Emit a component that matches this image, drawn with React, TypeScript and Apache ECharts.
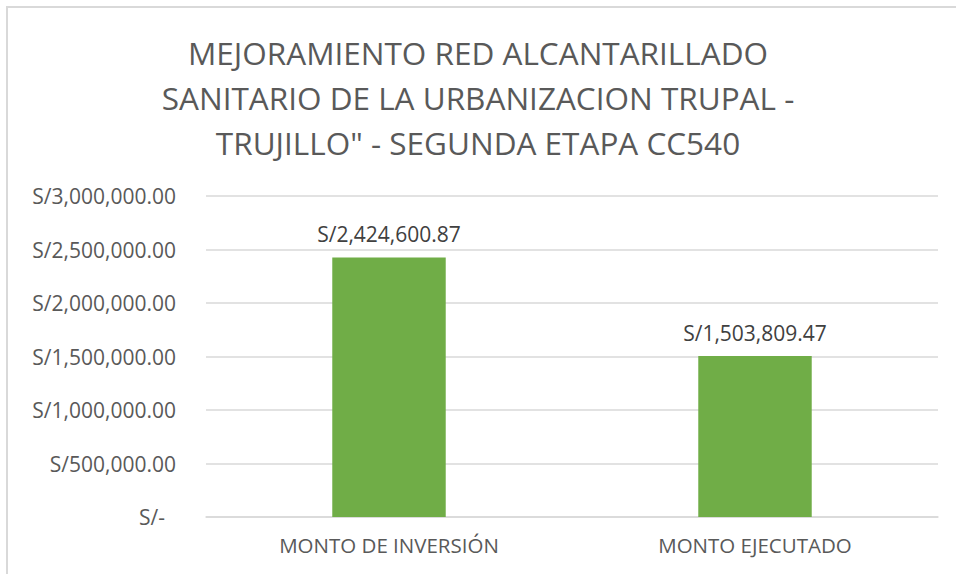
import React, { useEffect, useRef } from "react";
import * as echarts from "echarts";

const categories = ["MONTO DE INVERSIÓN", "MONTO EJECUTADO"];
const values = [2424600.87, 1503809.47];
const titleLines = [
  "MEJORAMIENTO RED ALCANTARILLADO",
  "SANITARIO DE LA URBANIZACION TRUPAL -",
  'TRUJILLO" - SEGUNDA ETAPA CC540',
];

const fmt = (v: number) =>
  v === 0
    ? "S/-"
    : "S/" +
      v.toLocaleString("en-US", { minimumFractionDigits: 2, maximumFractionDigits: 2 });

export default function App() {
  const ref = useRef<HTMLDivElement>(null);
  useEffect(() => {
    if (!ref.current) return;
    const chart = echarts.init(ref.current, null, { renderer: "svg" });
    const font = "'Open Sans', 'Noto Sans', sans-serif";
    chart.setOption({
      animation: false,
      backgroundColor: "#ffffff",
      title: {
        text: titleLines.join("\n"),
        left: "center",
        top: 25,
        textStyle: {
          fontFamily: font,
          fontSize: 31.5,
          fontWeight: "normal",
          color: "#595959",
          lineHeight: 45,
        },
      },
      graphic: [
        {
          type: "rect",
          shape: { x: 7, y: 7, width: 1000, height: 600 },
          style: { fill: "none", stroke: "#d9d9d9", lineWidth: 2 },
          silent: true,
        },
      ],
      grid: { left: 206, right: 18, top: 196, bottom: 57, containLabel: false },
      xAxis: {
        type: "category",
        data: categories,
        axisLine: { lineStyle: { color: "#d9d9d9", width: 1.5 } },
        axisTick: { show: false },
        axisLabel: { fontFamily: font, fontSize: 20.5, color: "#595959", margin: 17 },
      },
      yAxis: {
        type: "value",
        min: 0,
        max: 3000000,
        interval: 500000,
        axisLine: { show: false },
        axisTick: { show: false },
        splitLine: { lineStyle: { color: "#d9d9d9", width: 1.5 } },
        axisLabel: {
          fontFamily: font,
          fontSize: 21,
          color: "#595959",
          margin: 30,
          formatter: (v: number) => (v === 0 ? "{z|" + fmt(v) + "}" : fmt(v)),
          rich: {
            z: {
              fontFamily: font,
              fontSize: 21,
              color: "#595959",
              padding: [0, 11, 0, 0],
            },
          },
        },
      },
      series: [
        {
          type: "bar",
          data: values,
          barWidth: "31%",
          itemStyle: { color: "#70ad47" },
          label: {
            show: true,
            position: "top",
            distance: 13,
            fontFamily: font,
            fontSize: 21,
            color: "#404040",
            formatter: (p: any) => fmt(p.value),
          },
        },
      ],
    });
    return () => chart.dispose();
  }, []);
  return (
    <div
      ref={ref}
      style={{ position: "absolute", left: 0, top: 0, width: 956, height: 574 }}
    />
  );
}
